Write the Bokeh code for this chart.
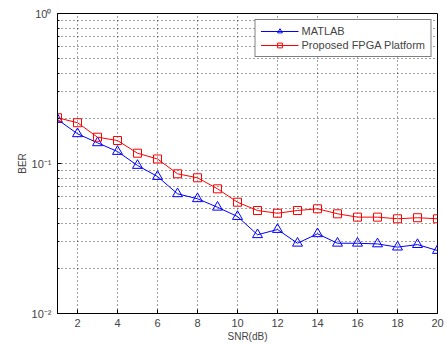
from bokeh.plotting import figure
from bokeh.embed import file_html
from bokeh.resources import INLINE
from bokeh.models import FixedTicker, CustomJSTickFormatter, Legend

snr = list(range(1, 21))
ber_matlab = [0.1965, 0.1578, 0.1374, 0.1202, 0.0970, 0.0819, 0.0628, 0.0582, 0.0511, 0.0443,
              0.0335, 0.0363, 0.0294, 0.0340, 0.0294, 0.0294, 0.0291, 0.0277, 0.0288, 0.0263]
ber_fpga = [0.2018, 0.1870, 0.1497, 0.1423, 0.1171, 0.1072, 0.0854, 0.0803, 0.0678, 0.0552,
            0.0486, 0.0466, 0.0486, 0.0499, 0.0462, 0.0439, 0.0439, 0.0428, 0.0435, 0.0428]
x_ticks = [2, 4, 6, 8, 10, 12, 14, 16, 18, 20]
y_ticks = [0.01, 0.1, 1]

FONT = "Liberation Sans"

p = figure(frame_width=380, frame_height=300, y_axis_type="log",
           x_range=(1, 20), y_range=(0.01, 1),
           output_backend="svg", toolbar_location=None,
           min_border_left=57, min_border_top=13, min_border_right=10, min_border_bottom=32,
           background_fill_color="white", border_fill_color="white")

p.outline_line_color = "black"
p.outline_line_width = 1

fmt = CustomJSTickFormatter(code="""
const e = Math.round(Math.log10(tick));
const sup = {"-":"\u207b","0":"\u2070","1":"\u00b9","2":"\u00b2","3":"\u00b3","4":"\u2074","5":"\u2075","6":"\u2076","7":"\u2077","8":"\u2078","9":"\u2079"};
let s = "";
for (const c of String(e)) s += sup[c];
return "10" + s;
""")

p.xaxis.ticker = FixedTicker(ticks=x_ticks)
p.yaxis.ticker = FixedTicker(ticks=y_ticks,
                             minor_ticks=[m * d for d in [0.01, 0.1] for m in range(2, 10)])
p.yaxis.formatter = fmt

for ax in [p.xaxis[0], p.yaxis[0]]:
    ax.major_tick_in = 4
    ax.major_tick_out = 0
    ax.minor_tick_in = 2
    ax.minor_tick_out = 0
    ax.major_label_text_font = FONT
    ax.major_label_text_font_size = "11px"
    ax.axis_label_text_font = FONT
    ax.axis_label_text_font_size = "10px"
    ax.axis_label_text_font_style = "normal"
    ax.axis_line_color = "black"
    ax.major_tick_line_color = "black"
    ax.minor_tick_line_color = "black"
    ax.major_label_standoff = 5
    ax.axis_label_standoff = 1

p.yaxis.major_label_standoff = 6
p.xaxis.axis_label = "SNR(dB)"
p.yaxis.axis_label = "BER"

for g in [p.xgrid, p.ygrid]:
    g.grid_line_color = "black"
    g.grid_line_dash = "1 3"
    g.grid_line_alpha = 0.75
p.ygrid.minor_grid_line_color = "black"
p.ygrid.minor_grid_line_dash = "1 3"
p.ygrid.minor_grid_line_alpha = 0.75

l1 = p.line(snr, ber_matlab, line_color="blue", line_width=1)
s1 = p.scatter(snr, ber_matlab, marker="triangle", size=10, fill_color=None, line_color="blue")
l2 = p.line(snr, ber_fpga, line_color="red", line_width=1)
s2 = p.scatter(snr, ber_fpga, marker="square", size=8, fill_color=None, line_color="red")

legend = Legend(items=[("MATLAB", [l1, s1]), ("Proposed FPGA Platform", [l2, s2])],
                location="top_right", label_text_font=FONT, label_text_font_size="11px",
                border_line_color="black", border_line_width=1,
                margin=6, padding=5, spacing=2, glyph_width=38, glyph_height=12,
                label_height=12, label_standoff=3, background_fill_alpha=1)
p.add_layout(legend)

open("out.html", "w").write(file_html(p, INLINE))
